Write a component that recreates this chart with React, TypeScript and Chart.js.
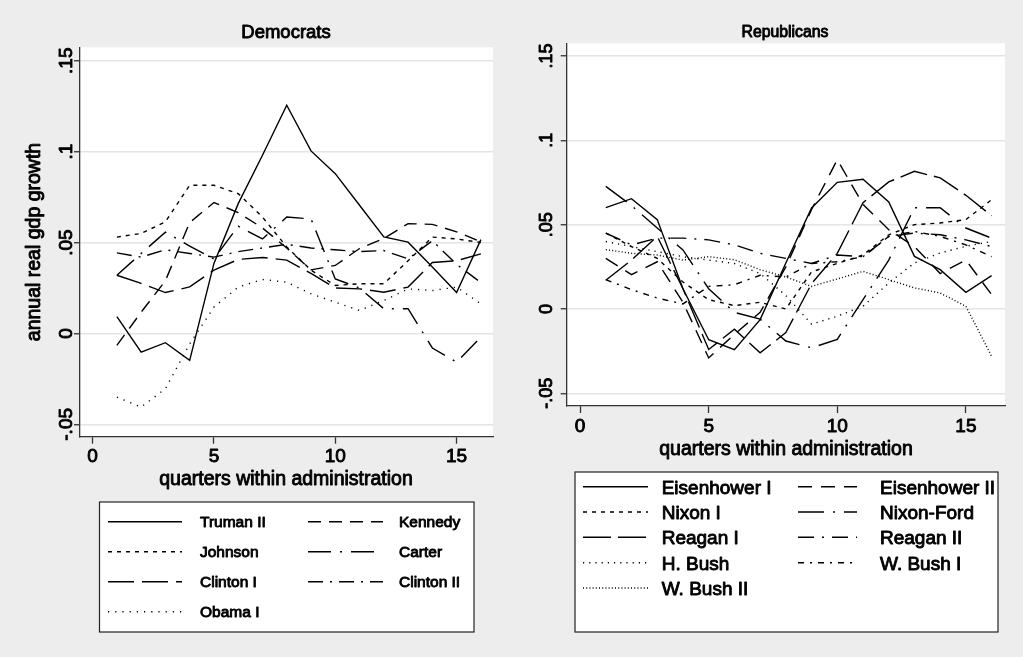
import React, { useEffect, useRef } from "react";
import { Chart, registerables } from "chart.js";

Chart.register(...registerables);

// ---------- data ----------
const quarters = [1, 2, 3, 4, 5, 6, 7, 8, 9, 10, 11, 12, 13, 14, 15, 16];
const xTickValues = [0, 5, 10, 15];
const xTickLabels = ["0", "5", "10", "15"];
const yTickValues = [-0.05, 0, 0.05, 0.1, 0.15];
const yTickLabels = ["-.05", "0", ".05", ".1", ".15"];

const demNames = ["Truman II", "Kennedy", "Johnson", "Carter", "Clinton I", "Clinton II", "Obama I"];
const trumanII = [0.0092, -0.0103, -0.0051, -0.0148, 0.0385, 0.0714, 0.098, 0.1255, 0.1004, 0.0879, 0.0705, 0.0531, 0.0502, 0.0366, 0.0225, 0.0516];
const kennedy = [-0.0066, 0.0117, 0.029, 0.061, 0.072, 0.0665, 0.058, 0.047, 0.035, 0.0374, 0.0467, 0.0522, 0.0604, 0.06, 0.0559, 0.0504];
const johnson = [0.053, 0.055, 0.0614, 0.0815, 0.0815, 0.0769, 0.064, 0.0476, 0.0348, 0.0264, 0.0273, 0.0273, 0.04, 0.053, 0.052, 0.05];
const carter = [0.032, 0.044, 0.0557, 0.048, 0.041, 0.059, 0.052, 0.064, 0.063, 0.03, 0.025, 0.0136, 0.0136, -0.008, -0.0158, -0.002];
const clintonI = [0.032, 0.0275, 0.0225, 0.0256, 0.0348, 0.0407, 0.0418, 0.0403, 0.033, 0.025, 0.0245, 0.0227, 0.0255, 0.039, 0.04, 0.0438];
const clintonII = [0.0443, 0.042, 0.046, 0.044, 0.042, 0.045, 0.047, 0.049, 0.047, 0.046, 0.045, 0.0456, 0.041, 0.051, 0.038, 0.028];
const obamaI = [-0.035, -0.0405, -0.0304, -0.0057, 0.0145, 0.0255, 0.0297, 0.0282, 0.0218, 0.0172, 0.0126, 0.0181, 0.0245, 0.0236, 0.0255, 0.0163];

const repNames = ["Eisenhower I", "Eisenhower II", "Nixon I", "Nixon-Ford", "Reagan I", "Reagan II", "H. Bush", "W. Bush I", "W. Bush II"];
const eisenhowerI = [0.0601, 0.0654, 0.053, 0.012, -0.0182, -0.0241, -0.0063, 0.0273, 0.0599, 0.0751, 0.0769, 0.0634, 0.0312, 0.0233, 0.0099, 0.0198];
const eisenhowerII = [0.03, 0.0204, 0.028, 0.004, -0.029, -0.015, -0.002, 0.025, 0.059, 0.0885, 0.062, 0.047, 0.037, 0.021, 0.029, 0.0085];
const nixonI = [0.045, 0.037, 0.03, 0.016, 0.0055, 0.002, 0.004, 0.0, 0.022, 0.027, 0.032, 0.044, 0.05, 0.051, 0.053, 0.0648];
const nixonFord = [0.0727, 0.0613, 0.048, 0.035, 0.012, -0.002, -0.006, -0.019, -0.023, -0.018, 0.0055, 0.029, 0.06, 0.06, 0.048, 0.042];
const reaganI = [0.017, 0.029, 0.043, 0.012, -0.024, -0.012, -0.026, -0.014, 0.015, 0.033, 0.063, 0.0753, 0.0816, 0.0777, 0.0674, 0.0553];
const reaganII = [0.045, 0.038, 0.042, 0.042, 0.041, 0.038, 0.033, 0.03, 0.027, 0.032, 0.031, 0.043, 0.045, 0.044, 0.041, 0.037];
const hBush = [0.04, 0.037, 0.034, 0.031, 0.029, 0.027, 0.021, 0.008, -0.009, -0.0043, 0.0016, 0.0154, 0.0273, 0.0332, 0.0372, 0.04];
const wBushI = [0.0174, 0.0115, 0.0065, 0.003, 0.0134, 0.0144, 0.02, 0.019, 0.027, 0.028, 0.031, 0.043, 0.046, 0.043, 0.038, 0.031];
const wBushII = [0.0352, 0.033, 0.032, 0.029, 0.031, 0.0292, 0.0233, 0.019, 0.0134, 0.0178, 0.0223, 0.0174, 0.0125, 0.0095, 0.0016, -0.028];

const demSeries = [trumanII, kennedy, johnson, carter, clintonI, clintonII, obamaI];
const repSeries = [eisenhowerI, eisenhowerII, nixonI, nixonFord, reaganI, reaganII, hBush, wBushI, wBushII];

// ---------- styles ----------
const demDash: number[][] = [[], [13, 8], [4, 5], [23, 9, 2, 9], [26, 8], [15, 7, 2, 7], [1.2, 6]];
const repDash: number[][] = [[], [14, 9], [4, 5], [26, 9, 2, 9], [28, 7], [16, 8, 2, 8], [1.2, 5], [6, 6, 2, 6], [1, 2.2]];

const FONT = '"Liberation Sans", Arial, Helvetica, sans-serif';
const AXIS = "#333333";
const GRID = "#e4e4e4";
const BG = "#ededed";
const xTitleText = "quarters within administration";

type Panel = {
  offset: number;
  width: number;
  pad: { left: number; right: number; top: number; bottom: number };
  xMin: number; xMax: number; yMin: number; yMax: number;
  title: string; titleX: number; titleBase: number; titleSize: number;
  yTickBaseX: number; yTickSize: number;
  yTitle: string | null; yTitleBaseX: number; yTitleSize: number;
  xTickBase: number; xTickSize: number;
  xTitleX: number; xTitleBase: number; xTitleSize: number;
  legBox: [number, number, number, number];
  legRows: number[];
  legCols: { x1: number; x2: number; tx: number }[];
  legSize: number;
};

const demPanel: Panel = {
  offset: 0, width: 512,
  pad: { left: 50, right: 19, top: 47.3, bottom: 190.3 },
  xMin: -0.52, xMax: 16.5, yMin: -0.0568, yMax: 0.1574,
  title: "Democrats", titleX: 286, titleBase: 37.7, titleSize: 18.5,
  yTickBaseX: 72, yTickSize: 19,
  yTitle: "annual real gdp growth", yTitleBaseX: 39.5, yTitleSize: 19.5,
  xTickBase: 461.5, xTickSize: 19,
  xTitleX: 286, xTitleBase: 484.5, xTitleSize: 19.5,
  legBox: [99.5, 502, 474, 632],
  legRows: [521.7, 551.7, 581.7, 611.7],
  legCols: [{ x1: 108, x2: 182, tx: 200 }, { x1: 308, x2: 383, tx: 399 }],
  legSize: 15.5,
};

const repPanel: Panel = {
  offset: 512, width: 511,
  pad: { left: 24.7, right: 18, top: 43.3, bottom: 221 },
  xMin: -0.52, xMax: 16.52, yMin: -0.0575, yMax: 0.1575,
  title: "Republicans", titleX: 785, titleBase: 36.7, titleSize: 15.8,
  yTickBaseX: 551.7, yTickSize: 18,
  yTitle: null, yTitleBaseX: 0, yTitleSize: 19.5,
  xTickBase: 431.7, xTickSize: 19,
  xTitleX: 786, xTitleBase: 455, xTitleSize: 19.5,
  legBox: [575, 472, 998, 632],
  legRows: [486.7, 512, 537.3, 562.7, 588],
  legCols: [{ x1: 583, x2: 648, tx: 661.7 }, { x1: 798, x2: 857, tx: 880 }],
  legSize: 19,
};

function txt(ctx: CanvasRenderingContext2D, s: string, x: number, y: number, size: number, align: CanvasTextAlign, rot = 0) {
  ctx.save();
  ctx.translate(x, y);
  if (rot) ctx.rotate(rot);
  ctx.font = `${size}px ${FONT}`;
  ctx.textAlign = align;
  ctx.textBaseline = "alphabetic";
  ctx.fillStyle = "#000";
  ctx.fillText(s, 0, 0);
  ctx.lineWidth = 0.9;
  ctx.lineJoin = "round";
  ctx.strokeStyle = "#000";
  ctx.setLineDash([]);
  ctx.strokeText(s, 0, 0);
  ctx.restore();
}

function decorPlugin(p: Panel) {
  return {
    id: "decor",
    beforeDraw(chart: any) {
      const { ctx, chartArea: a } = chart;
      ctx.save();
      ctx.fillStyle = "#ffffff";
      ctx.fillRect(a.left, a.top, a.right - a.left, a.bottom - a.top);
      ctx.restore();
    },
    afterDraw(chart: any) {
      const ctx: CanvasRenderingContext2D = chart.ctx;
      const xs = chart.scales.x;
      const ys = chart.scales.y;
      const o = p.offset;
      txt(ctx, p.title, p.titleX - o, p.titleBase, p.titleSize, "center");
      yTickValues.forEach((v, i) =>
        txt(ctx, yTickLabels[i], p.yTickBaseX - o, ys.getPixelForValue(v), p.yTickSize, "center", -Math.PI / 2)
      );
      xTickValues.forEach((v, i) =>
        txt(ctx, xTickLabels[i], xs.getPixelForValue(v), p.xTickBase, p.xTickSize, "center")
      );
      if (p.yTitle) {
        txt(ctx, p.yTitle, p.yTitleBaseX - o, (ys.top + ys.bottom) / 2, p.yTitleSize, "center", -Math.PI / 2);
      }
      txt(ctx, xTitleText, p.xTitleX - o, p.xTitleBase, p.xTitleSize, "center");

      // legend
      const [bx1, by1, bx2, by2] = p.legBox;
      ctx.save();
      ctx.fillStyle = "#ffffff";
      ctx.fillRect(bx1 - o, by1, bx2 - bx1, by2 - by1);
      ctx.strokeStyle = "#222";
      ctx.lineWidth = 1.2;
      ctx.setLineDash([]);
      ctx.strokeRect(bx1 - o, by1, bx2 - bx1, by2 - by1);
      ctx.restore();
      chart.data.datasets.forEach((ds: any, i: number) => {
        const cy = p.legRows[Math.floor(i / 2)];
        const col = p.legCols[i % 2];
        ctx.save();
        ctx.strokeStyle = "#000";
        ctx.lineWidth = 1.4;
        ctx.setLineDash(ds.borderDash || []);
        ctx.beginPath();
        ctx.moveTo(col.x1 - o, cy);
        ctx.lineTo(col.x2 - o, cy);
        ctx.stroke();
        ctx.restore();
        txt(ctx, ds.label, col.tx - o, cy + 0.358 * p.legSize, p.legSize, "left");
      });
    },
  };
}

function buildConfig(p: Panel, names: string[], series: number[][], dashes: number[][]): any {
  return {
    type: "line",
    data: {
      datasets: series.map((vals, i) => ({
        label: names[i],
        data: quarters.map((q, j) => ({ x: q, y: vals[j] })),
        borderColor: "#000000",
        borderWidth: 1.4,
        borderDash: dashes[i],
        pointRadius: 0,
        fill: false,
        tension: 0,
      })),
    },
    options: {
      animation: false,
      responsive: false,
      maintainAspectRatio: false,
      devicePixelRatio: 1,
      layout: { padding: p.pad },
      plugins: { legend: { display: false }, title: { display: false }, tooltip: { enabled: false } },
      scales: {
        x: {
          type: "linear",
          min: p.xMin,
          max: p.xMax,
          afterBuildTicks: (s: any) => { s.ticks = xTickValues.map((v) => ({ value: v })); },
          afterFit: (s: any) => { s.height = 30; },
          ticks: { display: false },
          grid: { drawOnChartArea: false, drawTicks: true, tickLength: 7, tickColor: AXIS, tickWidth: 1.3 },
          border: { display: true, color: AXIS, width: 1.3 },
        },
        y: {
          type: "linear",
          min: p.yMin,
          max: p.yMax,
          afterBuildTicks: (s: any) => { s.ticks = yTickValues.map((v) => ({ value: v })); },
          afterFit: (s: any) => { s.width = 30; },
          ticks: { display: false },
          grid: { color: GRID, lineWidth: 1.5, drawTicks: true, tickLength: 6, tickColor: AXIS, tickWidth: 1.3 },
          border: { display: true, color: AXIS, width: 1.3 },
        },
      },
    },
    plugins: [decorPlugin(p)],
  };
}

export default function App() {
  const leftRef = useRef<HTMLCanvasElement>(null);
  const rightRef = useRef<HTMLCanvasElement>(null);

  useEffect(() => {
    const c1 = new Chart(leftRef.current as HTMLCanvasElement, buildConfig(demPanel, demNames, demSeries, demDash));
    const c2 = new Chart(rightRef.current as HTMLCanvasElement, buildConfig(repPanel, repNames, repSeries, repDash));
    return () => {
      c1.destroy();
      c2.destroy();
    };
  }, []);

  return (
    <div style={{ position: "fixed", left: 0, top: 0, width: 1023, height: 657, background: BG, overflow: "hidden" }}>
      <canvas
        ref={leftRef}
        width={demPanel.width}
        height={657}
        style={{ position: "absolute", left: demPanel.offset, top: 0, width: demPanel.width, height: 657 }}
      />
      <canvas
        ref={rightRef}
        width={repPanel.width}
        height={657}
        style={{ position: "absolute", left: repPanel.offset, top: 0, width: repPanel.width, height: 657 }}
      />
    </div>
  );
}
